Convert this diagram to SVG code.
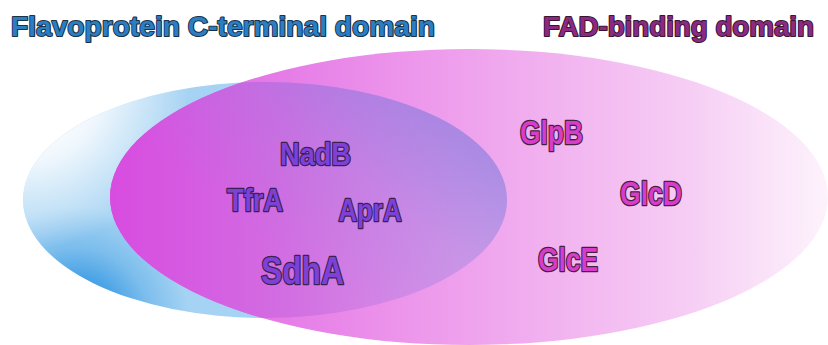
<svg xmlns="http://www.w3.org/2000/svg" width="828" height="345" viewBox="0 0 828 345">
  <defs>
    <!-- highlight spreading from the upper-left rim of the C-terminal set -->
    <radialGradient id="gBlueLight" gradientUnits="userSpaceOnUse" cx="25" cy="85" r="165">
      <stop offset="0" stop-color="#ffffff" stop-opacity="1"/>
      <stop offset="0.45" stop-color="#ffffff" stop-opacity="0.85"/>
      <stop offset="1" stop-color="#ffffff" stop-opacity="0"/>
    </radialGradient>
    <!-- deeper blue pooled at the lower-left rim -->
    <radialGradient id="gBlueDeep" gradientUnits="userSpaceOnUse" cx="75" cy="322" r="115">
      <stop offset="0" stop-color="#2f95e0" stop-opacity="1"/>
      <stop offset="0.4" stop-color="#3a9be3" stop-opacity="0.85"/>
      <stop offset="0.65" stop-color="#3d9de3" stop-opacity="0.4"/>
      <stop offset="1" stop-color="#3d9de3" stop-opacity="0"/>
    </radialGradient>
    <!-- magenta fading to near white for the FAD set -->
    <linearGradient id="gPink" gradientUnits="userSpaceOnUse" x1="110" y1="0" x2="828" y2="0">
      <stop offset="0" stop-color="#dc55e0"/>
      <stop offset="0.2" stop-color="#e476e6"/>
      <stop offset="0.4" stop-color="#ec94eb"/>
      <stop offset="0.6" stop-color="#f1b0ef"/>
      <stop offset="0.8" stop-color="#f6ccf4"/>
      <stop offset="1" stop-color="#fdf3fc"/>
    </linearGradient>
    <!-- shared region base tone -->
    <linearGradient id="gMix" gradientUnits="userSpaceOnUse" x1="110" y1="0" x2="507" y2="0">
      <stop offset="0" stop-color="#d84ce0"/>
      <stop offset="0.45" stop-color="#d26ee2"/>
      <stop offset="1" stop-color="#d8a4ea"/>
    </linearGradient>
    <!-- bluish tint toward the upper right of the shared region -->
    <linearGradient id="gTint" gradientUnits="userSpaceOnUse" x1="330" y1="290" x2="480" y2="100">
      <stop offset="0" stop-color="#8c7ee0" stop-opacity="0"/>
      <stop offset="0.45" stop-color="#8c7ee0" stop-opacity="0.2"/>
      <stop offset="1" stop-color="#8c7ee0" stop-opacity="0.75"/>
    </linearGradient>
    <clipPath id="clipFad">
      <ellipse cx="469" cy="197" rx="359" ry="148"/>
    </clipPath>
    <style>
      .title { font-family: "Liberation Sans", Arial, sans-serif; font-weight: bold; font-size: 27px; stroke-width: 2px; stroke-linejoin: round; paint-order: stroke; }
      .lbl { font-family: "Liberation Sans", Arial, sans-serif; font-weight: bold; stroke-width: 2.6px; stroke-linejoin: round; paint-order: stroke; }
      .core { fill: #7e40d6; stroke: #3a2150; }
      .fad { fill: #d83ccb; stroke: #45203c; }
    </style>
  </defs>

  <rect width="828" height="345" fill="#ffffff"/>

  <!-- Flavoprotein C-terminal domain set -->
  <g id="set-cterminal">
    <ellipse cx="265" cy="200" rx="242" ry="118" fill="#a6d3f3"/>
    <ellipse cx="265" cy="200" rx="242" ry="118" fill="url(#gBlueDeep)"/>
    <ellipse cx="265" cy="200" rx="242" ry="118" fill="url(#gBlueLight)"/>
  </g>

  <!-- FAD-binding domain set -->
  <g id="set-fad">
    <ellipse cx="469" cy="197" rx="359" ry="148" fill="url(#gPink)"/>
  </g>

  <!-- shared region of both sets -->
  <g id="overlap" clip-path="url(#clipFad)">
    <ellipse cx="265" cy="200" rx="242" ry="118" fill="url(#gMix)"/>
    <ellipse cx="265" cy="200" rx="242" ry="118" fill="url(#gTint)"/>
  </g>

  <!-- set titles -->
  <g id="title-cterminal">
    <text class="title" x="11" y="35.5" fill="#2b7ec1" stroke="#18324a" textLength="424" lengthAdjust="spacingAndGlyphs">Flavoprotein C-terminal domain</text>
  </g>
  <g id="title-fad">
    <text class="title" x="543" y="35.5" fill="#8c2a82" stroke="#3a1533" textLength="271" lengthAdjust="spacingAndGlyphs">FAD-binding domain</text>
  </g>

  <!-- proteins in both sets -->
  <g id="node-nadb"><text class="lbl core" x="280" y="165.3" font-size="31" textLength="71" lengthAdjust="spacingAndGlyphs">NadB</text></g>
  <g id="node-tfra"><text class="lbl core" x="227" y="211" font-size="32" textLength="56" lengthAdjust="spacingAndGlyphs">TfrA</text></g>
  <g id="node-apra"><text class="lbl core" x="338.5" y="221" font-size="32" textLength="63" lengthAdjust="spacingAndGlyphs">AprA</text></g>
  <g id="node-sdha"><text class="lbl core" x="261" y="284.3" font-size="39" textLength="83" lengthAdjust="spacingAndGlyphs">SdhA</text></g>

  <!-- proteins with only the FAD-binding domain -->
  <g id="node-glpb"><text class="lbl fad" x="520" y="144.3" font-size="33" textLength="63" lengthAdjust="spacingAndGlyphs">GlpB</text></g>
  <g id="node-glcd"><text class="lbl fad" x="620" y="205.3" font-size="33" textLength="62" lengthAdjust="spacingAndGlyphs">GlcD</text></g>
  <g id="node-glce"><text class="lbl fad" x="538" y="271" font-size="33" textLength="60" lengthAdjust="spacingAndGlyphs">GlcE</text></g>
</svg>
